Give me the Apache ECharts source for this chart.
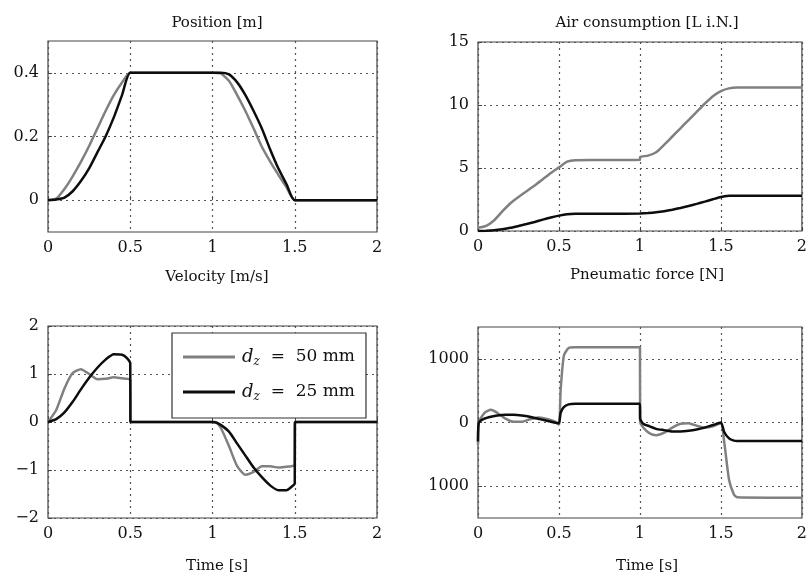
<!DOCTYPE html>
<html>
<head>
<meta charset="utf-8">
<script src="https://cdn.jsdelivr.net/npm/echarts@6/dist/echarts.min.js"></script>
<style>
  html, body { margin: 0; padding: 0; background: #fff; }
  #main { width: 810px; height: 577px; }
</style>
</head>
<body>
<div id="main"></div>
<script>
// series names
const nameA = 'd_z = 50 mm'
const nameB = 'd_z = 25 mm'

// position [m]
const posT = [0, 0.05, 0.1, 0.15, 0.2, 0.25, 0.3, 0.35, 0.4, 0.45, 0.5, 0.6, 0.8, 1.0, 1.05, 1.1, 1.15, 1.2, 1.25, 1.3, 1.35, 1.4, 1.45, 1.5, 1.7, 2.0]
const posA = [0, 0.005, 0.035, 0.075, 0.12, 0.17, 0.225, 0.28, 0.33, 0.37, 0.4, 0.4, 0.4, 0.4, 0.398, 0.375, 0.33, 0.28, 0.225, 0.168, 0.122, 0.08, 0.04, 0, 0, 0]
const posB = [0, 0.002, 0.008, 0.028, 0.06, 0.1, 0.15, 0.2, 0.26, 0.33, 0.4, 0.4, 0.4, 0.4, 0.4, 0.395, 0.37, 0.33, 0.28, 0.225, 0.16, 0.1, 0.05, 0, 0, 0]

// air consumption [L i.N.]
const airT = [0, 0.05, 0.1, 0.15, 0.2, 0.25, 0.3, 0.35, 0.4, 0.45, 0.5, 0.55, 0.6, 0.8, 1.0, 1.001, 1.05, 1.1, 1.15, 1.2, 1.25, 1.3, 1.35, 1.4, 1.45, 1.5, 1.55, 1.6, 1.8, 2.0]
const airA = [0.25, 0.4, 0.85, 1.55, 2.2, 2.7, 3.15, 3.62, 4.1, 4.6, 5.05, 5.5, 5.62, 5.63, 5.65, 5.88, 5.98, 6.25, 6.85, 7.5, 8.15, 8.8, 9.45, 10.1, 10.7, 11.1, 11.32, 11.38, 11.38, 11.38]
const airB = [0, 0.02, 0.06, 0.14, 0.25, 0.4, 0.55, 0.72, 0.9, 1.07, 1.22, 1.33, 1.36, 1.37, 1.38, 1.4, 1.42, 1.48, 1.57, 1.69, 1.83, 1.98, 2.15, 2.33, 2.52, 2.7, 2.79, 2.8, 2.8, 2.8]

// velocity [m/s]
const velT = [0, 0.05, 0.1, 0.15, 0.2, 0.25, 0.3, 0.35, 0.4, 0.45, 0.48, 0.5, 0.501, 0.8, 1.0, 1.02, 1.05, 1.1, 1.15, 1.2, 1.25, 1.3, 1.35, 1.4, 1.45, 1.48, 1.5, 1.501, 2.0]
const velA = [0, 0.25, 0.7, 1.02, 1.1, 1.0, 0.89, 0.9, 0.93, 0.91, 0.9, 0.88, 0, 0, 0, 0, -0.12, -0.5, -0.92, -1.1, -1.04, -0.92, -0.92, -0.95, -0.93, -0.92, -0.9, 0, 0]
const velB = [0, 0.06, 0.2, 0.42, 0.68, 0.92, 1.13, 1.3, 1.41, 1.4, 1.33, 1.22, 0, 0, 0, -0.01, -0.06, -0.2, -0.45, -0.7, -0.95, -1.15, -1.32, -1.42, -1.42, -1.35, -1.28, 0, 0]

// pneumatic force [N]
const forceT = [0, 0.005, 0.04, 0.08, 0.12, 0.17, 0.22, 0.27, 0.32, 0.37, 0.42, 0.47, 0.5, 0.51, 0.53, 0.56, 0.6, 0.8, 1.0, 1.001, 1.02, 1.06, 1.1, 1.15, 1.2, 1.25, 1.3, 1.35, 1.4, 1.45, 1.5, 1.52, 1.55, 1.58, 1.6, 1.8, 2.0]
const forceA = [-350, 0, 150, 200, 150, 60, 10, 10, 50, 80, 60, 20, -30, 500, 1050, 1170, 1180, 1180, 1180, 20, -80, -170, -200, -160, -80, -20, -10, -50, -80, -60, -10, -300, -900, -1130, -1175, -1180, -1180]
const forceB = [-300, 0, 60, 90, 110, 120, 120, 110, 90, 60, 30, 0, -10, 150, 240, 285, 295, 295, 295, 60, -20, -60, -100, -120, -140, -140, -130, -110, -80, -40, 0, -150, -250, -285, -290, -290, -290]

// axis ticks
const timeTicks = [0, 0.5, 1, 1.5, 2]
const posTicks = [0, 0.2, 0.4]
const airTicks = [0, 5, 10, 15]
const velTicks = [-2, -1, 0, 1, 2]
const forceTicks = [-1000, 0, 1000]

const colorA = '#808080'
const colorB = '#0d0d0d'
const font = 'DejaVu Serif'

function zip(t, v) {
    return t.map((x, i) => [x, v[i]])
}

const grids = [
    {left: 48, top: 41, width: 329, height: 191},
    {left: 478, top: 42, width: 327, height: 189},
    {left: 48, top: 326, width: 329, height: 192},
    {left: 478, top: 327, width: 327, height: 191}
]

function xAxisFor(i) {
    return {
        type: 'value', gridIndex: i, min: 0, max: 2,
        axisLine: {show: false},
        axisTick: {show: true, inside: true, length: 4, lineStyle: {color: '#444'}, customValues: timeTicks},
        axisLabel: {customValues: timeTicks, color: '#111', fontFamily: font, fontSize: 16, margin: 8},
        splitLine: {show: true, lineStyle: {color: '#555', type: [2, 4], width: 1.2}}
    }
}

function yAxisFor(i, min, max, ticks, fmt) {
    return {
        type: 'value', gridIndex: i, min: min, max: max,
        axisLine: {show: false},
        axisTick: {show: true, inside: true, length: 4, lineStyle: {color: '#444'}, customValues: ticks},
        axisLabel: {customValues: ticks, color: '#111', fontFamily: font, fontSize: 16, margin: 9, formatter: fmt},
        splitLine: {show: true, lineStyle: {color: '#555', type: [2, 4], width: 1.2}}
    }
}

function line(name, i, t, v, color) {
    return {
        name: name, type: 'line', xAxisIndex: i, yAxisIndex: i,
        data: zip(t, v), showSymbol: false, symbol: 'none',
        smooth: 0.2,
        lineStyle: {color: color, width: 2.5}, itemStyle: {color: color},
        animation: false
    }
}

function title(text, x, y) {
    return {
        text: text, left: x, top: y, textAlign: 'center',
        textStyle: {fontFamily: font, fontSize: 15, fontWeight: 'normal', color: '#111'}
    }
}

const myChart = echarts.init(document.getElementById('main'))

myChart.setOption({
    animation: false,
    backgroundColor: '#fff',
    title: [
        title('Position [m]', 212, 11),
        title('Air consumption [L i.N.]', 642, 11),
        title('Velocity [m/s]', 212, 265),
        title('Pneumatic force [N]', 642, 263),
        title('Time [s]', 212, 554),
        title('Time [s]', 642, 554)
    ],
    grid: grids.map(g => Object.assign({show: true, borderColor: '#444', borderWidth: 1.2, backgroundColor: 'transparent'}, g)),
    xAxis: [0, 1, 2, 3].map(xAxisFor),
    yAxis: [
        yAxisFor(0, -0.1, 0.5, posTicks, v => String(v)),
        yAxisFor(1, 0, 15, airTicks, v => String(v)),
        yAxisFor(2, -2, 2, velTicks, v => (v < 0 ? '\u2212' + Math.abs(v) : String(v))),
        yAxisFor(3, -1500, 1500, forceTicks, v => String(Math.abs(v)))
    ],
    legend: {
        data: [nameA, nameB],
        orient: 'vertical',
        left: 172, top: 333,
        padding: [15, 11, 15, 11],
        itemGap: 15,
        itemWidth: 52, itemHeight: 3,
        icon: 'rect',
        borderColor: '#333', borderWidth: 1.2, borderRadius: 0,
        backgroundColor: '#fff',
        formatter: n => (n === nameA ? '{d|d}{z|z}{n|  =  50 mm}' : '{d|d}{z|z}{n|  =  25 mm}'),
        textStyle: {
            fontFamily: font, fontSize: 17, color: '#111',
            rich: {
                d: {fontFamily: font, fontStyle: 'italic', fontSize: 18, color: '#111', padding: [0, 0, 0, 2]},
                z: {fontFamily: font, fontStyle: 'italic', fontSize: 12, color: '#111', padding: [10, 0, 0, 0]},
                n: {fontFamily: font, fontSize: 17, color: '#111'}
            }
        }
    },
    series: [
        line(nameA, 0, posT, posA, colorA),
        line(nameB, 0, posT, posB, colorB),
        line(nameA, 1, airT, airA, colorA),
        line(nameB, 1, airT, airB, colorB),
        line(nameA, 2, velT, velA, colorA),
        line(nameB, 2, velT, velB, colorB),
        line(nameA, 3, forceT, forceA, colorA),
        line(nameB, 3, forceT, forceB, colorB)
    ]
})
</script>
</body>
</html>
